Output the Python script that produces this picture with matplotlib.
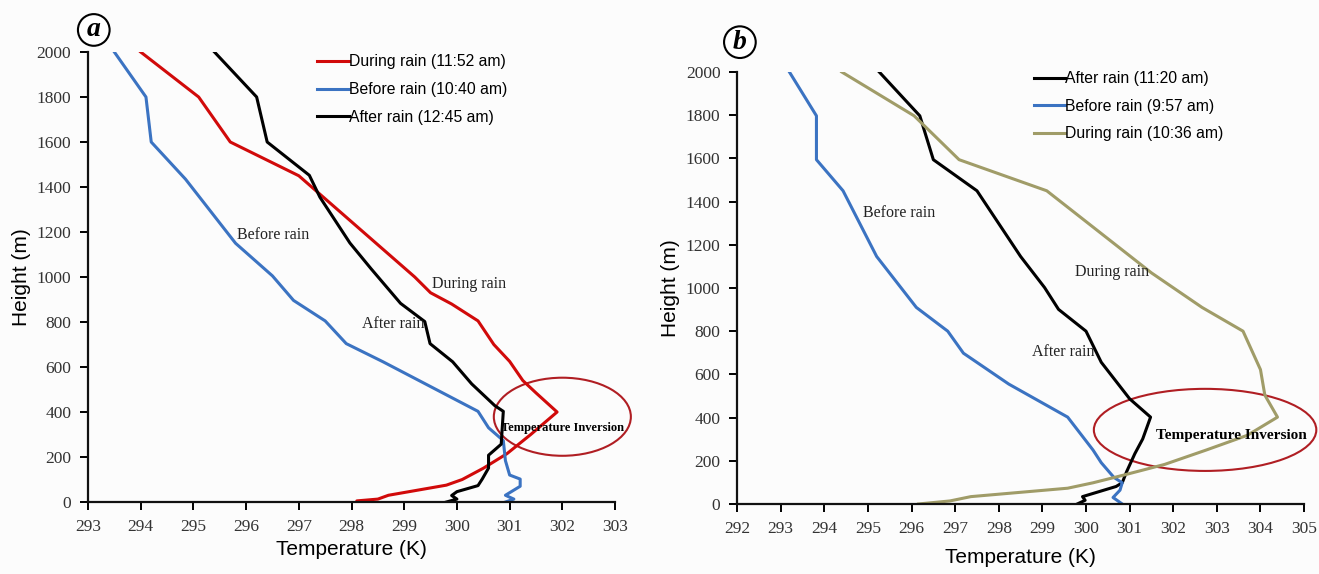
import matplotlib.pyplot as plt
from matplotlib.patches import Ellipse

# ----------------------------- DATA (panel a)
a_red_T = [294.0, 295.1, 295.7, 297.0, 299.2, 299.5, 299.9, 300.4, 300.7, 301.0, 301.25,
           301.5, 301.9, 301.4, 300.95, 300.5, 300.1, 299.8, 298.7, 298.5, 298.1, 298.1]
a_red_h = [2000, 1800, 1600, 1450, 1000, 930, 880, 805, 700, 625, 540,
           485, 400, 300, 215, 150, 100, 75, 30, 13, 5, 0]

a_blue_T = [293.5, 294.1, 294.2, 294.85, 295.8, 296.5, 296.9, 297.5, 297.9, 298.6, 300.4,
            300.6, 300.88, 300.92, 301.0, 301.2, 301.2, 300.92, 301.08, 300.92]
a_blue_h = [2000, 1800, 1600, 1435, 1150, 1005, 896, 805, 704, 623, 403,
            330, 273, 184, 120, 102, 70, 30, 13, 0]

a_black_T = [295.4, 296.2, 296.4, 297.2, 297.4, 297.97, 298.37, 298.93, 299.39, 299.49, 299.92,
             300.28, 300.72, 300.88, 300.84, 300.6, 300.6, 300.48, 300.4, 300.0, 299.9, 300.0, 299.8]
a_black_h = [2000, 1800, 1600, 1452, 1355, 1151, 1037, 883, 802, 704, 623,
             525, 428, 403, 257, 208, 151, 102, 73, 46, 29, 13, 0]

# ----------------------------- DATA (panel b)
b_black_T = [295.26, 296.19, 296.5, 297.5, 298.5, 299.05, 299.37, 300.0, 300.35, 301.0, 301.48,
             301.3, 301.12, 300.93, 300.83, 300.69, 299.92, 299.98, 299.8]
b_black_h = [2000, 1797, 1594, 1450, 1146, 1002, 901, 800, 656, 487, 402,
             301, 233, 149, 98, 81, 34, 17, 0]

b_blue_T = [293.2, 293.82, 293.82, 294.43, 295.2, 296.11, 296.83, 297.19, 298.23, 299.58,
            300.16, 300.35, 300.64, 300.83, 300.78, 300.62, 300.83]
b_blue_h = [2000, 1797, 1594, 1450, 1146, 910, 800, 698, 555, 402,
            250, 191, 123, 98, 64, 30, 0]

b_olive_T = [294.4, 296.06, 297.09, 299.1, 301.5, 302.66, 303.6, 304.0, 304.1, 304.39,
             303.7, 302.76, 301.8, 300.83, 300.16, 299.58, 297.36, 296.88, 296.16]
b_olive_h = [2000, 1797, 1594, 1450, 1070, 910, 800, 622, 504, 402,
             318, 250, 183, 132, 98, 73, 34, 14, 0]

# ----------------------------- STYLE
RED = '#d10a0a'
BLUE = '#3b73c2'
BLACK = '#000000'
OLIVE = '#a09c68'
ELL = '#b01e23'
SERIF = ['Liberation Serif', 'DejaVu Serif']
SANS = ['Liberation Sans', 'DejaVu Sans']

fig = plt.figure(figsize=(13.19, 5.74), dpi=100, facecolor='#fcfcfc')
ax1 = fig.add_axes([0.0667, 0.1254, 0.3996, 0.784])
ax2 = fig.add_axes([0.5588, 0.122, 0.4299, 0.7526])


def style_axis(ax, xmin, xmax, xpad):
    ax.set_facecolor('#fcfcfc')
    ax.set_xlim(xmin, xmax)
    ax.set_ylim(0, 2000)
    ax.set_xticks(range(xmin, xmax + 1))
    ax.set_yticks(range(0, 2001, 200))
    for s in ['top', 'right']:
        ax.spines[s].set_visible(False)
    for s in ['left', 'bottom']:
        ax.spines[s].set_linewidth(1.6)
        ax.spines[s].set_color('#111111')
    ax.tick_params(direction='out', length=6, width=1.4, labelsize=12.5, pad=6)
    for lab in ax.get_xticklabels() + ax.get_yticklabels():
        lab.set_family(SERIF)
        lab.set_color('#333333')
    ax.set_xlabel('Temperature (K)', fontsize=15, family=SANS, labelpad=xpad)
    ax.set_ylabel('Height (m)', fontsize=15, family=SANS, labelpad=4)


# ----------------------------- PANEL a
style_axis(ax1, 293, 303, 4)
ax1.plot(a_red_T, a_red_h, color=RED, lw=2.2, label='During rain (11:52 am)')
ax1.plot(a_blue_T, a_blue_h, color=BLUE, lw=2.2, label='Before rain (10:40 am)')
ax1.plot(a_black_T, a_black_h, color=BLACK, lw=2.2, label='After rain (12:45 am)')
ax1.legend(loc='upper left', bbox_to_anchor=(0.42, 1.012), frameon=False,
           prop={'family': SANS, 'size': 11.3}, handlelength=2.0, handletextpad=0.0,
           borderpad=0, labelspacing=0.8)
ax1.text(295.83, 1187, 'Before rain', family=SERIF, fontsize=11.5, va='center', color='#222222')
ax1.text(299.52, 967, 'During rain', family=SERIF, fontsize=11.5, va='center', color='#222222')
ax1.text(298.2, 793, 'After rain', family=SERIF, fontsize=11.5, va='center', color='#222222')
ax1.text(300.84, 327, 'Temperature Inversion', family=SERIF, fontsize=9, weight='bold', va='center')
ax1.add_patch(Ellipse((302.0, 379), 2.6, 347, fill=False, ec=ELL, lw=1.5, clip_on=False))
ax1.text(0.011, 1.049, 'a', transform=ax1.transAxes, fontsize=20, family=SERIF, weight='bold',
         style='italic', ha='center', va='center',
         bbox=dict(boxstyle='circle,pad=0.12', fc='white', ec='black', lw=1.5))

# ----------------------------- PANEL b
style_axis(ax2, 292, 305, 8)
ax2.plot(b_black_T, b_black_h, color=BLACK, lw=2.2, label='After rain (11:20 am)')
ax2.plot(b_blue_T, b_blue_h, color=BLUE, lw=2.2, label='Before rain (9:57 am)')
ax2.plot(b_olive_T, b_olive_h, color=OLIVE, lw=2.2, label='During rain (10:36 am)')
ax2.legend(loc='upper left', bbox_to_anchor=(0.51, 1.02), frameon=False,
           prop={'family': SANS, 'size': 11.3}, handlelength=2.0, handletextpad=0.0,
           borderpad=0, labelspacing=0.8)
ax2.text(294.89, 1346, 'Before rain', family=SERIF, fontsize=11.5, va='center', color='#222222')
ax2.text(299.75, 1073, 'During rain', family=SERIF, fontsize=11.5, va='center', color='#222222')
ax2.text(298.76, 702, 'After rain', family=SERIF, fontsize=11.5, va='center', color='#222222')
ax2.text(301.6, 318, 'Temperature Inversion', family=SERIF, fontsize=11, weight='bold', va='center')
ax2.add_patch(Ellipse((302.73, 343), 5.1, 380, fill=False, ec=ELL, lw=1.5, clip_on=False))
ax2.text(0.005, 1.069, 'b', transform=ax2.transAxes, fontsize=20, family=SERIF, weight='bold',
         style='italic', ha='center', va='center',
         bbox=dict(boxstyle='circle,pad=0.12', fc='white', ec='black', lw=1.5))

fig.savefig('out.png', dpi=100, facecolor=fig.get_facecolor())
